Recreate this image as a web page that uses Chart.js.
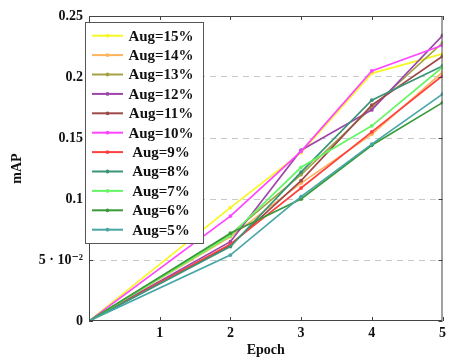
<!DOCTYPE html>
<html>
<head>
<meta charset="utf-8">
<script src="https://cdn.jsdelivr.net/npm/chart.js@4"></script>
<style>
  html, body { margin: 0; padding: 0; background: #fff; }
  #wrap { width: 450px; height: 360px; }
</style>
</head>
<body>
<div id="wrap"><canvas id="mapChart" width="450" height="360"></canvas></div>
<script>
// epochs where mAP was measured
var epochs = [0, 2, 3, 4, 5];
var seriesNames = ['Aug=15%', 'Aug=14%', 'Aug=13%', 'Aug=12%', 'Aug=11%', 'Aug=10%',
                   'Aug=9%', 'Aug=8%', 'Aug=7%', 'Aug=6%', 'Aug=5%'];
var aug15 = [0, 0.093, 0.138, 0.203, 0.219];
var aug14 = [0, 0.069, 0.113, 0.153, 0.204];
var aug13 = [0, 0.071, 0.120, 0.175, 0.228];
var aug12 = [0, 0.065, 0.140, 0.173, 0.234];
var aug11 = [0, 0.062, 0.115, 0.177, 0.217];
var aug10 = [0, 0.086, 0.139, 0.205, 0.226];
var aug9  = [0, 0.063, 0.109, 0.155, 0.201];
var aug8  = [0, 0.061, 0.122, 0.181, 0.209];
var aug7  = [0, 0.070, 0.126, 0.160, 0.208];
var aug6  = [0, 0.072, 0.100, 0.144, 0.179];
var aug5  = [0, 0.054, 0.102, 0.145, 0.186];
var yTickLabels = ['0', '5 \u00b7 10\u207b\u00b2', '0.1', '0.15', '0.2', '0.25'];
var xTickLabels = ['', '1', '2', '3', '4', '5'];

var allSeries = [aug15, aug14, aug13, aug12, aug11, aug10, aug9, aug8, aug7, aug6, aug5];
var colors = ['#f7f723', '#ffb35c', '#a3a343', '#9d45aa', '#9e4a4a', '#ff45ff',
              '#ff4040', '#3a9478', '#66f566', '#3a9a3a', '#48a6a6'];

var serif = '"Liberation Serif", "DejaVu Serif", serif';

var datasets = allSeries.map(function(vals, i) {
  return {
    label: seriesNames[i],
    data: epochs.map(function(e, j) { return { x: e, y: vals[j] }; }),
    borderColor: colors[i],
    backgroundColor: colors[i],
    borderWidth: 1.7,
    pointRadius: 1.9,
    pointHoverRadius: 1.9,
    pointBorderWidth: 0,
    fill: false,
    tension: 0,
    order: allSeries.length - i
  };
});

// frame, inward ticks and boxed legend like pgfplots
var framePlugin = {
  id: 'frame',
  afterDraw: function(chart) {
    var ctx = chart.ctx, a = chart.chartArea;
    var xs = chart.scales.x, ys = chart.scales.y;
    ctx.save();
    ctx.strokeStyle = '#444';
    ctx.lineWidth = 1;
    ctx.strokeRect(a.left + 0.5, a.top + 0.5, a.right - a.left - 1, a.bottom - a.top - 1);
    ctx.beginPath();
    xs.ticks.forEach(function(t) {
      var px = Math.round(xs.getPixelForValue(t.value)) + 0.5;
      ctx.moveTo(px, a.bottom); ctx.lineTo(px, a.bottom - 4);
      ctx.moveTo(px, a.top); ctx.lineTo(px, a.top + 4);
    });
    ys.ticks.forEach(function(t) {
      var py = Math.round(ys.getPixelForValue(t.value)) + 0.5;
      ctx.moveTo(a.left, py); ctx.lineTo(a.left + 4, py);
      ctx.moveTo(a.right, py); ctx.lineTo(a.right - 4, py);
    });
    ctx.stroke();

    // legend box
    var bx = 85, by = 22, bw = 118, bh = 221, rowH = 19.4, firstY = 35.7;
    ctx.fillStyle = '#fff';
    ctx.fillRect(bx, by, bw, bh);
    ctx.strokeStyle = '#555';
    ctx.strokeRect(bx + 0.5, by + 0.5, bw, bh);
    ctx.font = 'bold 15px ' + serif;
    ctx.textAlign = 'center';
    ctx.textBaseline = 'middle';
    chart.data.datasets.forEach(function(ds, i) {
      var cy = firstY + i * rowH;
      ctx.strokeStyle = ds.borderColor;
      ctx.lineWidth = 2;
      ctx.beginPath();
      ctx.moveTo(92, cy); ctx.lineTo(123, cy);
      ctx.stroke();
      ctx.fillStyle = ds.borderColor;
      ctx.beginPath();
      ctx.arc(107.5, cy, 1.9, 0, Math.PI * 2);
      ctx.fill();
      ctx.fillStyle = '#111';
      ctx.fillText(ds.label, 161, cy + 1);
    });
    ctx.restore();
  }
};

var ctx = document.getElementById('mapChart');
var mapChart = new Chart(ctx, {
  type: 'line',
  data: { datasets: datasets },
  options: {
    responsive: false,
    animation: false,
    layout: { padding: { left: 0, right: 6, top: 16, bottom: 0 } },
    plugins: { legend: { display: false }, tooltip: { enabled: false } },
    scales: {
      x: {
        type: 'linear',
        min: 0, max: 5,
        grid: { display: false, drawTicks: false },
        border: { display: false },
        ticks: {
          stepSize: 1,
          padding: 4,
          color: '#111',
          font: { family: serif, size: 14, weight: 'bold' },
          callback: function(v) { return xTickLabels[v]; }
        },
        title: {
          display: true, text: 'Epoch', color: '#111',
          font: { family: serif, size: 14, weight: 'bold' },
          padding: { top: 0, bottom: 1 }
        },
        afterFit: function(s) { s.height = 39; }
      },
      y: {
        min: 0, max: 0.25,
        grid: {
          drawTicks: false,
          color: function(c) {
            return (c.tick.value > 0.001 && c.tick.value < 0.249) ? '#c8c8c8' : 'rgba(0,0,0,0)';
          }
        },
        border: { display: false, dash: [6, 5] },
        ticks: {
          stepSize: 0.05,
          padding: 6,
          color: '#111',
          font: { family: serif, size: 14, weight: 'bold' },
          callback: function(v, i) { return yTickLabels[i]; }
        },
        title: {
          display: true, text: 'mAP', color: '#111',
          font: { family: serif, size: 14, weight: 'bold' },
          padding: { top: 9, bottom: 0 }
        },
        afterFit: function(s) { s.width = 89; }
      }
    }
  },
  plugins: [framePlugin]
});
</script>
</body>
</html>
